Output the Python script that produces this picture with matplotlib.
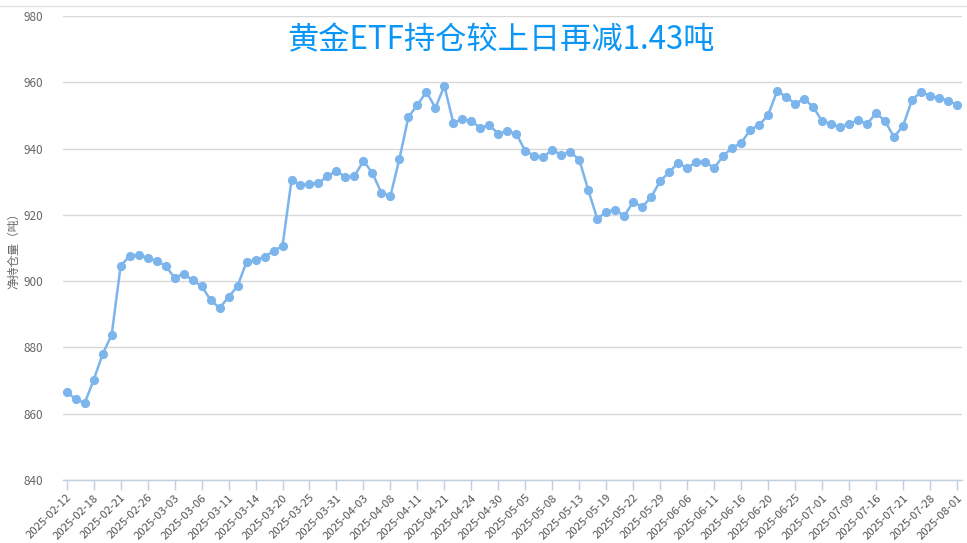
import numpy as np
import matplotlib
matplotlib.use('Agg')
import matplotlib.pyplot as plt
from matplotlib.lines import Line2D

plt.rcParams['font.family'] = ['Noto Sans CJK SC', 'DejaVu Sans']

# net holdings (tonnes), one value per trading day
holdings = [
    866.6, 864.4, 863.2, 870.2, 878.0, 883.8, 904.6, 907.6, 907.9, 907.0,
    906.1, 904.6, 901.0, 902.2, 900.3, 898.5, 894.3, 891.9, 895.2, 898.5,
    905.8, 906.4, 907.3, 909.1, 910.6, 930.5, 929.0, 929.3, 929.6, 931.7,
    933.2, 931.4, 931.7, 936.3, 932.6, 926.6, 925.7, 936.9, 949.5, 953.2,
    957.1, 952.3, 958.9, 947.7, 948.9, 948.3, 946.2, 947.1, 944.4, 945.3,
    944.4, 939.3, 937.8, 937.5, 939.6, 938.1, 939.0, 936.6, 927.5, 918.8,
    920.9, 921.5, 919.7, 923.9, 922.4, 925.4, 930.2, 932.9, 935.7, 934.1,
    936.0, 936.0, 934.1, 937.8, 940.2, 941.7, 945.6, 947.1, 950.1, 957.4,
    955.6, 953.5, 955.0, 952.6, 948.3, 947.4, 946.5, 947.4, 948.6, 947.4,
    950.7, 948.3, 943.5, 946.8, 954.7, 957.1, 955.9, 955.3, 954.4, 953.2,
]

# shown date labels (every third trading day)
tick_labels = [
    '2025-02-12', '2025-02-18', '2025-02-21', '2025-02-26', '2025-03-03',
    '2025-03-06', '2025-03-11', '2025-03-14', '2025-03-20', '2025-03-25',
    '2025-03-31', '2025-04-03', '2025-04-08', '2025-04-11', '2025-04-21',
    '2025-04-24', '2025-04-30', '2025-05-05', '2025-05-08', '2025-05-13',
    '2025-05-19', '2025-05-22', '2025-05-29', '2025-06-06', '2025-06-11',
    '2025-06-16', '2025-06-20', '2025-06-25', '2025-07-01', '2025-07-09',
    '2025-07-16', '2025-07-21', '2025-07-28', '2025-08-01',
]
y_ticks = [840, 860, 880, 900, 920, 940, 960, 980]

x = np.arange(len(holdings))
tick_pos = np.arange(len(tick_labels)) * 3

fig = plt.figure(figsize=(9.67, 5.43), dpi=100)
ax = fig.add_axes([63 / 967, 1 - 480 / 543, (962 - 63) / 967, 464 / 543])

ax.plot(x, holdings, color='#7cb5ec', lw=1.8, marker='o', ms=5.6,
        mec='#7cb5ec', mfc='#7cb5ec', clip_on=False, zorder=3)

ax.set_xlim(-0.41, 99.56)
ax.set_ylim(840, 980)
ax.set_yticks(y_ticks)
ax.set_xticks(tick_pos)
ax.set_xticklabels(tick_labels, rotation=45, ha='right', rotation_mode='anchor',
                   fontsize=8.2, color='#555555')
ax.tick_params(axis='x', length=7, width=1, color='#c0d0e0', pad=2)
ax.tick_params(axis='y', length=0, pad=14, labelsize=8.5, labelcolor='#666666')

ax.grid(axis='y', color='#d8d8d8', lw=1)
ax.set_axisbelow(True)
for s in ['top', 'right', 'left']:
    ax.spines[s].set_visible(False)
ax.spines['bottom'].set_color('#c0d0e0')
ax.spines['bottom'].set_linewidth(1)
ax.spines['bottom'].set_zorder(2)

ax.set_ylabel('净持仓量（吨）', fontsize=8.5, color='#666666')
ax.yaxis.set_label_coords(-43 / 899, 0.5)

fig.text(501 / 967, 1 - 40 / 543, '黄金ETF持仓较上日再减1.43吨', fontsize=22.5,
         color='#0a96f5', ha='center', va='center')

# thin border line at the top of the container
fig.add_artist(Line2D([0, 1], [1 - 6 / 543, 1 - 6 / 543], color='#e2e2e2', lw=1))

fig.savefig('out.png', dpi=100)
